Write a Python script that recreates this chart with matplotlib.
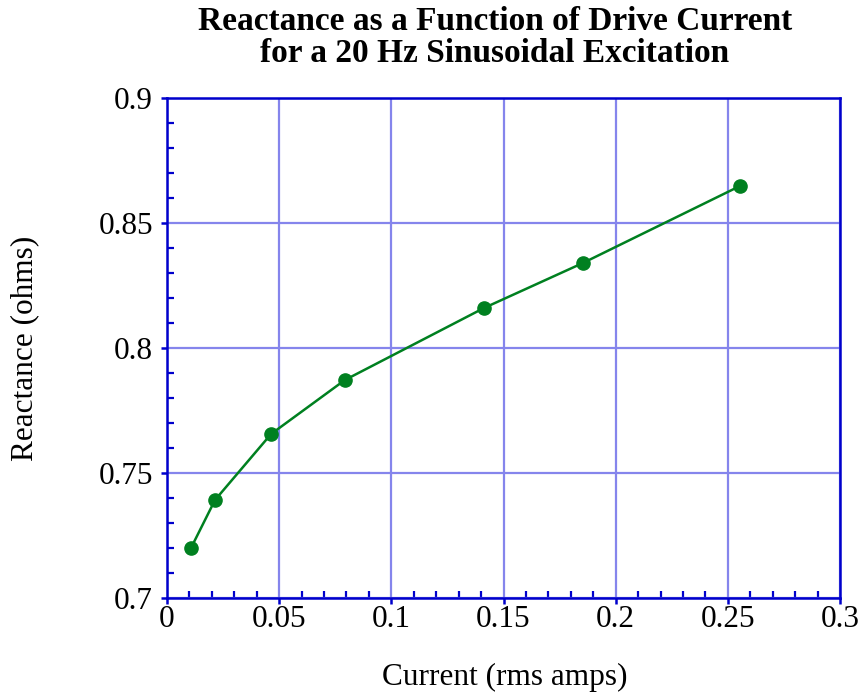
import matplotlib.pyplot as plt
from matplotlib.ticker import MultipleLocator, FuncFormatter

# drive current (rms amps) and measured reactance (ohms)
current = [0.0107, 0.0214, 0.0464, 0.0793, 0.1413, 0.1854, 0.2554]
reactance = [0.720, 0.7392, 0.7656, 0.7872, 0.8160, 0.8340, 0.8648]

x_ticks = [0, 0.05, 0.1, 0.15, 0.2, 0.25, 0.3]
y_ticks = [0.7, 0.75, 0.8, 0.85, 0.9]

frame_blue = '#0000cc'
grid_blue = '#8585ec'
green = '#008020'

plt.rcParams['font.family'] = ['Liberation Serif', 'DejaVu Serif']

fig = plt.figure(figsize=(8.6, 6.96), dpi=100)
ax = fig.add_axes([167 / 860, 1 - 598 / 696, 673 / 860, 500 / 696])

ax.plot(current, reactance, color=green, lw=1.8, marker='o', ms=9.5, zorder=3)

ax.set_xlim(0, 0.3)
ax.set_ylim(0.7, 0.9)
ax.set_xticks(x_ticks)
ax.set_yticks(y_ticks)
fmt = FuncFormatter(lambda v, p: f'{v:g}')
ax.xaxis.set_major_formatter(fmt)
ax.yaxis.set_major_formatter(fmt)
ax.xaxis.set_minor_locator(MultipleLocator(0.01))
ax.yaxis.set_minor_locator(MultipleLocator(0.01))

ax.grid(True, which='major', color=grid_blue, lw=1.6, zorder=1)
ax.set_axisbelow(True)

for s in ax.spines.values():
    s.set_color(frame_blue)
    s.set_linewidth(1.8)

ax.tick_params(which='major', direction='out', length=4, width=1.8, color=frame_blue,
               labelsize=22.5, pad=1)
ax.tick_params(axis='y', which='major', pad=6)
ax.tick_params(which='minor', direction='in', length=5, width=1.6, color=frame_blue)
ax.tick_params(top=False, right=False, which='both')

# axis labels and two-line title placed in figure pixels
fig.text(505 / 860, 1 - 677 / 696, 'Current (rms amps)', fontsize=22.5,
         ha='center', va='center')
fig.text(25 / 860, 1 - 348 / 696, 'Reactance (ohms)', fontsize=22.5,
         ha='center', va='center', rotation=90)
fig.text(495 / 860, 1 - 22 / 696, 'Reactance as a Function of Drive Current',
         fontsize=24, fontweight='bold', ha='center', va='center')
fig.text(495 / 860, 1 - 53 / 696, 'for a 20 Hz Sinusoidal Excitation',
         fontsize=24, fontweight='bold', ha='center', va='center')

fig.savefig('out.png', dpi=100)
